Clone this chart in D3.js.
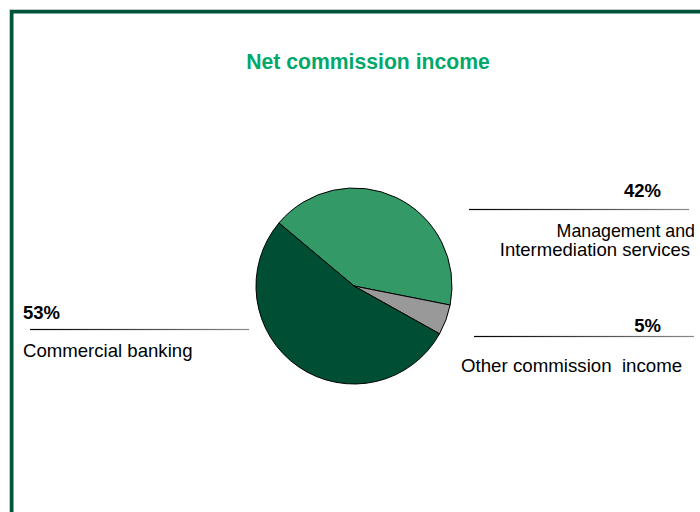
<!DOCTYPE html>
<html>
<head>
<meta charset="utf-8">
<script src="https://cdn.jsdelivr.net/npm/d3@7"></script>
<style>
  html, body { margin: 0; padding: 0; background: #fff; }
  svg { display: block; }
  text { font-family: "Liberation Sans", Arial, sans-serif; }
</style>
</head>
<body>
<svg id="chart" width="700" height="512"></svg>
<script>
// Net commission income split, in percent
const categories = ["Management and Intermediation services", "Other commission  income", "Commercial banking"];
const values = [42, 5, 53];
const percentLabels = ["42%", "5%", "53%"];
const sliceColors = ["#339966", "#999999", "#004f35"];

const svg = d3.select("#chart");

// Frame: thick green border running off the right and bottom edges
svg.append("rect")
  .attr("x", 9.5).attr("y", 9.5).attr("width", 900).attr("height", 900)
  .attr("fill", "none").attr("stroke", "#c8c8c8").attr("stroke-width", 1);
svg.append("rect")
  .attr("x", 11.75).attr("y", 11.75).attr("width", 900).attr("height", 900)
  .attr("fill", "none").attr("stroke", "#00553a").attr("stroke-width", 3.5);

// Title
svg.append("text")
  .attr("x", 368).attr("y", 69)
  .attr("text-anchor", "middle")
  .attr("font-size", 21.2).attr("font-weight", "bold")
  .attr("fill", "#00a86b")
  .text("Net commission income");

// Pie
const cx = 354, cy = 286, r = 98;
const start = -50 * Math.PI / 180;
const pie = d3.pie().sort(null).value(d => d).startAngle(start).endAngle(start + 2 * Math.PI);
const arc = d3.arc().innerRadius(0).outerRadius(r);

const g = svg.append("g").attr("transform", `translate(${cx},${cy})`);
g.selectAll("path")
  .data(pie(values))
  .join("path")
  .attr("d", arc)
  .attr("fill", (d, i) => sliceColors[i])
  .attr("stroke", "#000")
  .attr("stroke-width", 1);

// Leader rules fade from black to grey
const defs = svg.append("defs");
const grad = defs.append("linearGradient").attr("id", "rule").attr("x1", "0%").attr("x2", "100%");
grad.append("stop").attr("offset", "0%").attr("stop-color", "#000");
grad.append("stop").attr("offset", "100%").attr("stop-color", "#8a8a8a");

function rule(x1, x2, y) {
  svg.append("rect")
    .attr("x", x1).attr("y", y - 0.6).attr("width", x2 - x1).attr("height", 1.2)
    .attr("fill", "url(#rule)");
}

function label(x, y, txt, anchor, bold, size) {
  svg.append("text")
    .attr("x", x).attr("y", y)
    .attr("text-anchor", anchor)
    .attr("font-size", size || 18.5)
    .attr("font-weight", bold ? "bold" : "normal")
    .attr("fill", "#000")
    .style("white-space", "pre")
    .attr("xml:space", "preserve")
    .text(txt);
}

// Management and Intermediation services
label(661, 197, percentLabels[0], "end", true);
rule(469, 689, 209.5);
label(695, 237, "Management and", "end", false, 17.8);
label(690, 256, "Intermediation services", "end", false);

// Other commission income
label(661, 332, percentLabels[1], "end", true);
rule(474, 694, 336.5);
label(461, 372, categories[1], "start", false, 18.7);

// Commercial banking
label(23, 319, percentLabels[2], "start", true);
rule(30, 249, 329.5);
label(23, 357, categories[2], "start", false, 18.6);
</script>
</body>
</html>
